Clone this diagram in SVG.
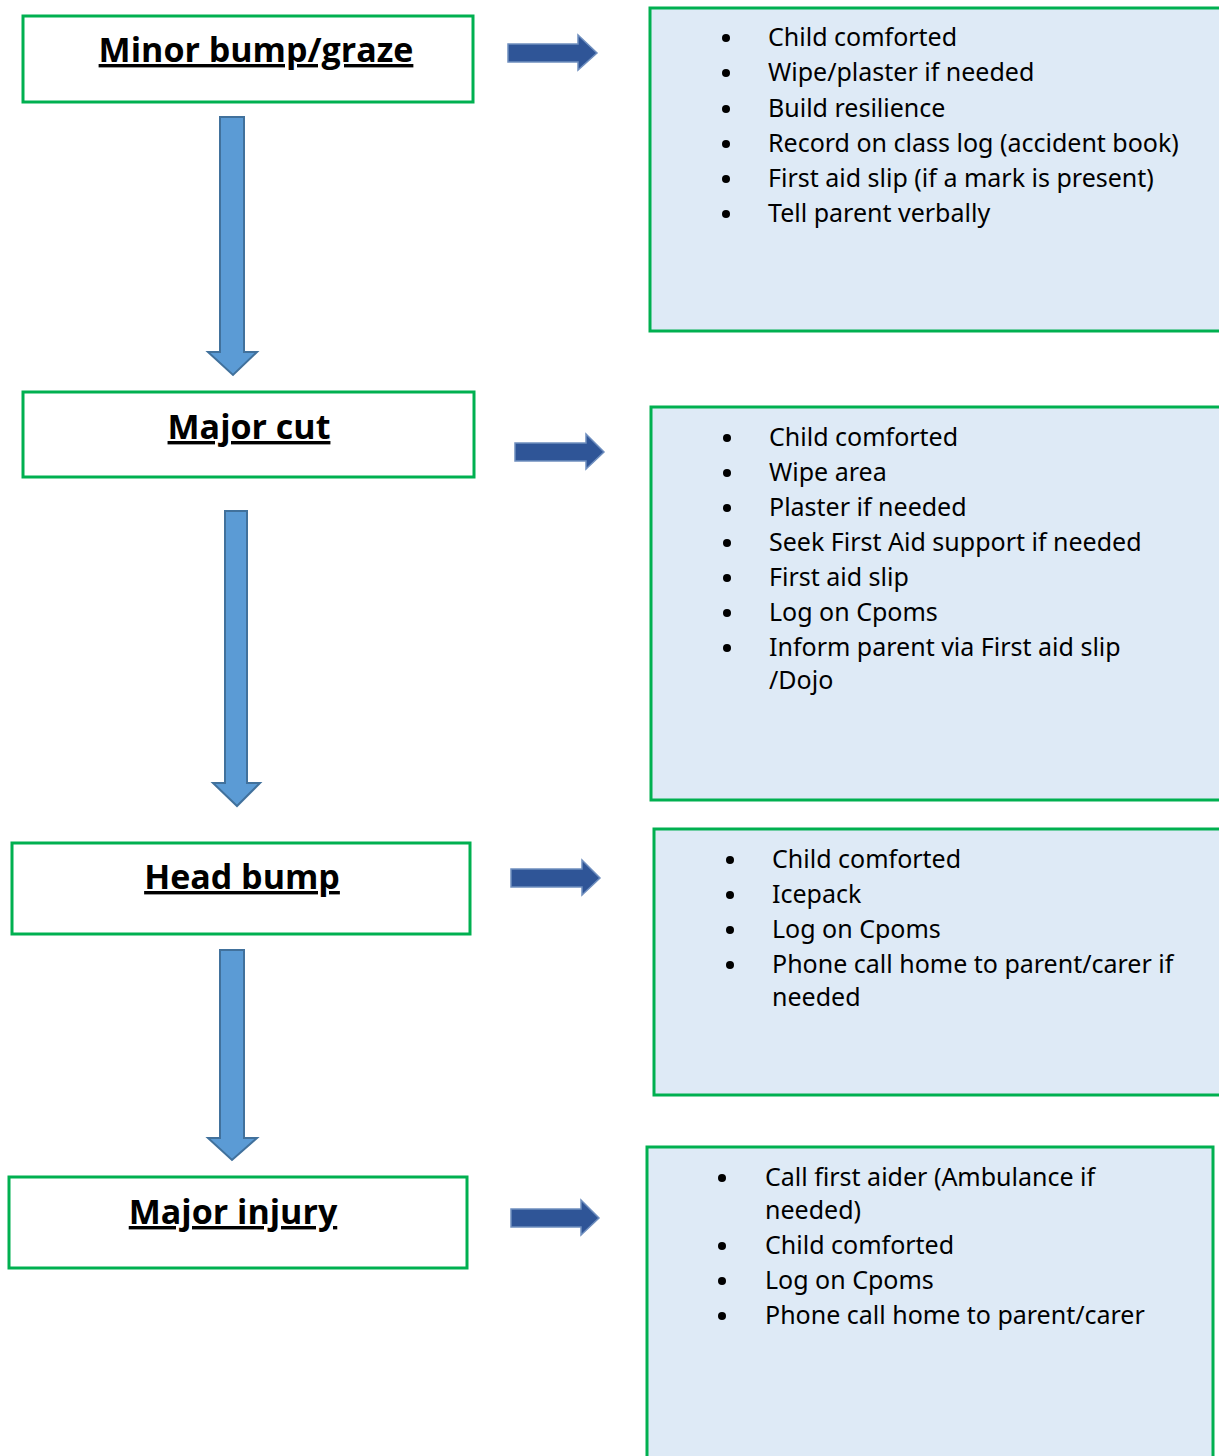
<svg xmlns="http://www.w3.org/2000/svg" width="1219" height="1456" viewBox="0 0 1219 1456">
<style>
.lbox{fill:#fff;stroke:#00B050;stroke-width:3}
.rbox{fill:#DEEAF6;stroke:#00B050;stroke-width:3}
.title{font-family:"Open Sans","Liberation Sans",sans-serif;font-weight:bold;font-size:34px;fill:#000;text-anchor:middle;text-decoration:underline}
.item{font-family:"Noto Sans","Liberation Sans",sans-serif;font-size:25px;fill:#000}
.bul{fill:#000}
.harr{fill:#2F5597;stroke:#6F8FBF;stroke-width:1.5}
.varr{fill:#5B9BD5;stroke:#41719C;stroke-width:2}
</style>
<rect width="1219" height="1456" fill="#fff"/>
<g id="connectors">
<path class="varr" d="M220,117 H244 V352 H257 L233,375 L208,352 H220 Z"/>
<path class="varr" d="M225,511 H247 V783 H260 L237,806 L213,783 H225 Z"/>
<path class="varr" d="M220,950 H244 V1138 H257 L232,1160 L208,1138 H220 Z"/>
<path class="harr" d="M508,44 H578 V35 L597,53 L578,70 V62 H508 Z"/>
<path class="harr" d="M515,443 H586 V434 L604,452 L586,469 V461 H515 Z"/>
<path class="harr" d="M511,869 H582 V860 L600,878 L582,895 V887 H511 Z"/>
<path class="harr" d="M511,1209 H581 V1200 L599,1218 L581,1235 V1227 H511 Z"/>
</g>
<g id="minor">
<rect class="lbox" x="23" y="16" width="450" height="86"/>
<text class="title" x="256" y="62">Minor bump/graze</text>
</g>
<g id="majorcut">
<rect class="lbox" x="23" y="392" width="451" height="85"/>
<text class="title" x="249" y="439">Major cut</text>
</g>
<g id="headbump">
<rect class="lbox" x="12" y="843" width="458" height="91"/>
<text class="title" x="242" y="889">Head bump</text>
</g>
<g id="majorinjury">
<rect class="lbox" x="9" y="1177" width="458" height="91"/>
<text class="title" x="233" y="1224">Major injury</text>
</g>
<g id="minor-actions">
<rect class="rbox" x="650" y="8" width="600" height="323"/>
<g class="bul"><circle cx="726" cy="38" r="4"/><circle cx="726" cy="73" r="4"/><circle cx="726" cy="109" r="4"/><circle cx="726" cy="144" r="4"/><circle cx="726" cy="179" r="4"/><circle cx="726" cy="214" r="4"/></g>
<text class="item" x="768" y="46">Child comforted</text>
<text class="item" x="768" y="81">Wipe/plaster if needed</text>
<text class="item" x="768" y="117">Build resilience</text>
<text class="item" x="768" y="152">Record on class log (accident book)</text>
<text class="item" x="768" y="187">First aid slip (if a mark is present)</text>
<text class="item" x="768" y="222">Tell parent verbally</text>
</g>
<g id="majorcut-actions">
<rect class="rbox" x="651" y="407" width="600" height="393"/>
<g class="bul"><circle cx="727" cy="438" r="4"/><circle cx="727" cy="473" r="4"/><circle cx="727" cy="508" r="4"/><circle cx="727" cy="543" r="4"/><circle cx="727" cy="578" r="4"/><circle cx="727" cy="613" r="4"/><circle cx="727" cy="648" r="4"/></g>
<text class="item" x="769" y="446">Child comforted</text>
<text class="item" x="769" y="481">Wipe area</text>
<text class="item" x="769" y="516">Plaster if needed</text>
<text class="item" x="769" y="551">Seek First Aid support if needed</text>
<text class="item" x="769" y="586">First aid slip</text>
<text class="item" x="769" y="621">Log on Cpoms</text>
<text class="item" x="769" y="656">Inform parent via First aid slip</text>
<text class="item" x="769" y="689">/Dojo</text>
</g>
<g id="headbump-actions">
<rect class="rbox" x="654" y="829" width="600" height="266"/>
<g class="bul"><circle cx="730" cy="860" r="4"/><circle cx="730" cy="895" r="4"/><circle cx="730" cy="930" r="4"/><circle cx="730" cy="965" r="4"/></g>
<text class="item" x="772" y="868">Child comforted</text>
<text class="item" x="772" y="903">Icepack</text>
<text class="item" x="772" y="938">Log on Cpoms</text>
<text class="item" x="772" y="973">Phone call home to parent/carer if</text>
<text class="item" x="772" y="1006">needed</text>
</g>
<g id="majorinjury-actions">
<rect class="rbox" x="647" y="1147" width="566" height="340"/>
<g class="bul"><circle cx="722" cy="1178" r="4"/><circle cx="722" cy="1246" r="4"/><circle cx="722" cy="1281" r="4"/><circle cx="722" cy="1316" r="4"/></g>
<text class="item" x="765" y="1186">Call first aider (Ambulance if</text>
<text class="item" x="765" y="1219">needed)</text>
<text class="item" x="765" y="1254">Child comforted</text>
<text class="item" x="765" y="1289">Log on Cpoms</text>
<text class="item" x="765" y="1324">Phone call home to parent/carer</text>
</g>
</svg>
